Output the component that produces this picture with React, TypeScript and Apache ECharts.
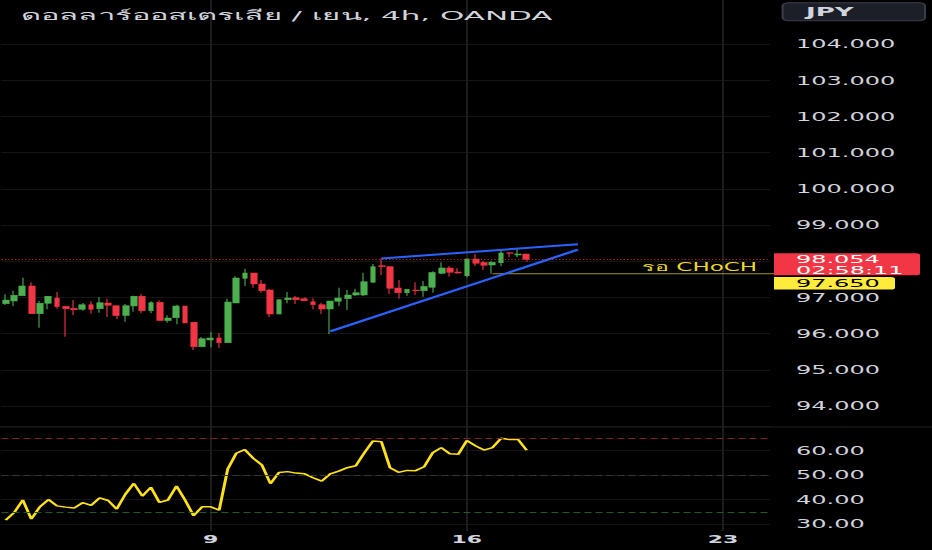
import React, { useEffect, useRef } from "react";
import * as echarts from "echarts";

// horizontal stretch of the whole picture (the reference is drawn wide)
const SX = 2;
const W = 932 / SX;
const H = 550;

const titleText = "ดอลลาร์ออสเตรเลีย / เยน, 4h, OANDA";
const currencyText = "JPY";
const chochText = "รอ CHoCH";
const countdownText = "02:58:11";

const slotCount = 90;
const xTickIndex = [24, 54, 84];
const xTickLabels = ["9", "16", "23"];

const opens = [
  96.827, 96.9, 97.048, 97.315, 96.551, 96.836, 96.983, 96.753, 96.698, 96.67,
  96.799, 96.689, 96.845, 96.772, 96.504, 96.762, 97.029, 96.633, 96.864, 96.366,
  96.44, 96.762, 96.311, 95.639, 95.823, 95.878, 95.749, 96.845, 97.527, 97.674,
  97.37, 97.204, 96.541, 96.937, 96.992, 96.965, 96.882, 96.799, 96.679, 96.891,
  96.965, 97.067, 97.067, 97.417, 97.877, 97.849, 97.26, 97.131, 97.205, 97.186,
  97.279, 97.665, 97.813, 97.702, 97.601, 98.061, 97.96, 97.895, 97.96, 98.236,
  98.172, 98.199,
];
const closes = [
  96.928, 97.057, 97.315, 96.551, 96.836, 97.029, 96.744, 96.689, 96.661, 96.799,
  96.67, 96.854, 96.781, 96.504, 96.772, 97.029, 96.633, 96.854, 96.366, 96.431,
  96.762, 96.293, 95.639, 95.86, 95.878, 95.749, 96.873, 97.536, 97.674, 97.37,
  97.186, 96.541, 96.937, 96.983, 96.937, 96.91, 96.799, 96.679, 96.9, 96.983,
  97.067, 97.131, 97.435, 97.849, 97.849, 97.251, 97.131, 97.223, 97.186, 97.297,
  97.684, 97.813, 97.693, 97.674, 98.061, 97.941, 97.886, 97.969, 98.227, 98.218,
  98.199, 98.054,
];
const lows = [
  96.79, 96.762, 97.039, 96.551, 96.164, 96.67, 96.689, 95.915, 96.514, 96.633,
  96.551, 96.578, 96.458, 96.403, 96.33, 96.606, 96.56, 96.56, 96.366, 96.302,
  96.256, 96.293, 95.547, 95.62, 95.62, 95.602, 95.749, 96.845, 97.315, 97.269,
  97.131, 96.458, 96.541, 96.836, 96.818, 96.891, 96.67, 96.541, 95.989, 96.762,
  96.652, 97.039, 97.039, 97.407, 97.619, 97.094, 96.965, 97.048, 97.067, 97.021,
  97.131, 97.647, 97.573, 97.656, 97.555, 97.868, 97.757, 97.65, 97.868, 98.107,
  98.107, 97.987,
];
const highs = [
  97.085, 97.186, 97.545, 97.416, 96.91, 97.029, 97.149, 96.753, 96.928, 96.845,
  96.891, 97.011, 96.965, 96.772, 96.818, 97.048, 97.094, 96.891, 96.919, 96.504,
  96.799, 96.772, 96.33, 95.906, 96.044, 96.016, 96.965, 97.582, 97.794, 97.674,
  97.481, 97.232, 96.946, 97.149, 97.039, 97.002, 96.974, 96.854, 96.9, 97.269,
  97.204, 97.242, 97.684, 97.923, 98.08, 97.868, 97.481, 97.223, 97.417, 97.453,
  97.721, 97.969, 97.868, 97.813, 98.08, 98.199, 98.015, 98.015, 98.291, 98.236,
  98.346, 98.199,
];
const rsiValues = [
  31.6, 34.7, 39.8, 32.0, 37.0, 40.0, 37.4, 36.9, 36.5, 38.7,
  37.6, 40.7, 39.6, 36.1, 42.1, 46.6, 41.4, 45.0, 38.8, 39.8,
  45.5, 39.8, 33.4, 37.0, 37.0, 35.7, 52.5, 58.9, 60.4, 56.8,
  54.1, 46.5, 51.0, 51.4, 50.8, 50.5, 48.9, 47.5, 50.5, 51.6,
  53.0, 53.8, 59.1, 63.9, 63.6, 53.0, 51.1, 51.9, 51.8, 53.4,
  59.1, 61.2, 58.7, 58.5, 64.1, 62.0, 60.2, 61.2, 65.0, 64.5,
  64.5, 60.1,
];
const rsiBands = [65, 50, 35];

const lastPrice = 98.054;
const chochPrice = 97.65;
const chochStartIndex = 57;
const chochLabelIndex = 88;
const upperTrend = [
  [44, 98.075],
  [67, 98.467],
];
const lowerTrend = [
  [38, 96.06],
  [67, 98.318],
];

const priceMin = 94;
const priceMax = 104;
const rsiMin = 30;
const rsiMax = 70;

const FONT = "'DejaVu Sans', 'Noto Sans', sans-serif";
const TXT = "#d1d4dc";
const GREEN = "#4caf50";
const RED = "#f23645";

export default function App() {
  const ref = useRef<HTMLDivElement>(null);

  useEffect(() => {
    document.body.style.background = "#000";
    const el = ref.current!;
    const chart = echarts.init(el, null, { renderer: "svg" });

    const categories = Array.from({ length: slotCount }, (_, i) => "b" + i);
    const candleData = opens.map((o, i) => [o, closes[i], lows[i], highs[i]]);

    const gl = 0.72;
    const gr = W - 385;
    const band = (W - gl - gr) / slotCount;
    const isTick = (i: number) => xTickIndex.indexOf(i) >= 0;

    const hiddenX = (gridIndex: number) => ({
      type: "category",
      gridIndex,
      data: categories,
      show: false,
      boundaryGap: true,
    });

    const option: any = {
      animation: false,
      backgroundColor: "#000000",
      grid: [
        { left: gl, right: gr, top: 44, height: 362 },
        { left: gl, right: gr, top: 426.1, height: 97.9 },
        { left: gl + band / 2, right: gr + band / 2, top: 0, height: 531 },
      ],
      xAxis: [
        hiddenX(0),
        hiddenX(1),
        {
          type: "category",
          gridIndex: 2,
          data: categories,
          boundaryGap: false,
          axisLine: { show: false },
          axisTick: { show: false },
          splitLine: {
            show: true,
            interval: (i: number) => isTick(i),
            lineStyle: { color: "#1c1c1c", width: 1 },
          },
          axisLabel: {
            interval: (i: number) => isTick(i),
            formatter: (_v: string, i: number) => {
              const k = xTickIndex.indexOf(i);
              return k >= 0 ? xTickLabels[k] : "";
            },
            color: TXT,
            fontSize: 11,
            fontWeight: "bold",
            fontFamily: FONT,
            margin: 3,
          },
        },
      ],
      yAxis: [
        {
          type: "value",
          gridIndex: 0,
          position: "right",
          min: priceMin,
          max: priceMax,
          interval: 1,
          axisLine: { show: false },
          axisTick: { show: false },
          splitLine: { lineStyle: { color: "#141414", width: 1 } },
          axisLabel: {
            // the tick under the live-price tag is covered by it
            formatter: (v: number) => (Math.abs(v - lastPrice) < 0.45 ? "" : v.toFixed(3)),
            color: TXT,
            fontSize: 12,
            fontFamily: FONT,
            margin: 13,
          },
        },
        {
          type: "value",
          gridIndex: 1,
          position: "right",
          min: rsiMin,
          max: rsiMax,
          interval: 10,
          axisLine: { show: false },
          axisTick: { show: false },
          splitLine: { lineStyle: { color: "#131313", width: 1 } },
          axisLabel: {
            formatter: (v: number) => (v >= rsiMax ? "" : v.toFixed(2)),
            color: TXT,
            fontSize: 12,
            fontFamily: FONT,
            margin: 13,
          },
        },
        { type: "value", gridIndex: 2, show: false, min: 0, max: 1 },
      ],
      series: [
        {
          type: "candlestick",
          xAxisIndex: 0,
          yAxisIndex: 0,
          data: candleData,
          barWidth: 3.3,
          itemStyle: {
            color: GREEN,
            color0: RED,
            borderColor: GREEN,
            borderColor0: RED,
            borderWidth: 0.55,
          },
          markLine: {
            silent: true,
            symbol: ["none", "none"],
            label: { show: false },
            lineStyle: { color: RED, width: 1, type: [0.6, 1.1], opacity: 0.75 },
            data: [{ yAxis: lastPrice }],
          },
          z: 3,
        },
        {
          type: "line",
          xAxisIndex: 0,
          yAxisIndex: 0,
          data: upperTrend,
          symbol: "none",
          lineStyle: { color: "#2962ff", width: 2 },
          z: 4,
        },
        {
          type: "line",
          xAxisIndex: 0,
          yAxisIndex: 0,
          data: lowerTrend,
          symbol: "none",
          lineStyle: { color: "#2962ff", width: 2 },
          z: 4,
        },
        {
          type: "line",
          xAxisIndex: 0,
          yAxisIndex: 0,
          data: [
            [chochStartIndex, chochPrice],
            [slotCount, chochPrice],
          ],
          symbol: "none",
          lineStyle: { color: "#a59624", width: 1 },
          markPoint: {
            silent: true,
            symbol: "circle",
            symbolSize: 0.1,
            itemStyle: { color: "transparent" },
            label: {
              show: true,
              formatter: chochText,
              position: [0, -1],
              align: "right",
              verticalAlign: "bottom",
              color: "#eed823",
              fontSize: 11.5,
              fontFamily: FONT,
            },
            data: [{ coord: [chochLabelIndex, chochPrice] }],
          },
          z: 2,
        },
        {
          type: "line",
          xAxisIndex: 1,
          yAxisIndex: 1,
          data: rsiValues,
          symbol: "none",
          clip: false,
          lineStyle: { color: "#ffe11a", width: 1.5 },
          markLine: {
            silent: true,
            symbol: ["none", "none"],
            label: { show: false },
            data: [
              { yAxis: rsiBands[0], lineStyle: { color: "#7d2626", width: 1, type: [3.5, 2] } },
              { yAxis: rsiBands[1], lineStyle: { color: "#363636", width: 1, type: [3.5, 2] } },
              { yAxis: rsiBands[2], lineStyle: { color: "#1d5a2a", width: 1, type: [3.5, 2] } },
            ],
          },
          z: 3,
        },
      ],
    };

    chart.setOption(option);

    const pyLast = chart.convertToPixel({ yAxisIndex: 0 }, lastPrice) as number;
    const pyChoch = chart.convertToPixel({ yAxisIndex: 0 }, chochPrice) as number;
    const redTop = pyLast - 6;
    const redH = 22;
    const yc = Math.max(pyChoch, redTop + redH + 1.7 + 6.3);
    const labelX = 398;

    const tagText = (text: string, y: number, fill: string) => ({
      type: "text",
      z: 101,
      x: labelX,
      y,
      scaleX: 1.09,
      style: {
        text,
        fill,
        fontSize: 11,
        fontFamily: FONT,
        verticalAlign: "middle",
      },
    });

    chart.setOption({
      graphic: [
        {
          type: "rect",
          z: 100,
          shape: { x: 0, y: 426.5, width: W, height: 1 },
          style: { fill: "#1f1f1f" },
        },
        {
          type: "text",
          z: 100,
          x: 10.5,
          y: 15.5,
          scaleX: 1.19,
          style: {
            text: titleText,
            fill: TXT,
            fontSize: 13,
            fontFamily: FONT,
            verticalAlign: "middle",
          },
        },
        {
          type: "rect",
          z: 100,
          shape: { x: 391.3, y: 2.7, width: 71.2, height: 18, r: 3 },
          style: { fill: "#1c1f28", stroke: "#3a3e48", lineWidth: 1 },
        },
        {
          type: "text",
          z: 101,
          x: 403,
          y: 12,
          style: {
            text: currencyText,
            fill: TXT,
            fontSize: 13,
            fontWeight: "bold",
            fontFamily: FONT,
            verticalAlign: "middle",
          },
        },
        {
          type: "rect",
          z: 100,
          shape: { x: 387, y: redTop, width: 73, height: redH, r: [0, 2, 2, 0] },
          style: { fill: RED },
        },
        tagText(lastPrice.toFixed(3), pyLast + 0.3, "#ffffff"),
        tagText(countdownText, pyLast + 10.8, "#ffffff"),
        {
          type: "rect",
          z: 100,
          shape: { x: 387, y: yc - 6.3, width: 60.5, height: 12.6, r: [0, 2, 2, 0] },
          style: { fill: "#ffeb3b" },
        },
        tagText(chochPrice.toFixed(3), yc + 0.3, "#000000"),
      ],
    });

    return () => {
      chart.dispose();
    };
  }, []);

  return (
    <div
      ref={ref}
      style={{
        position: "fixed",
        left: 0,
        top: 0,
        width: W,
        height: H,
        transform: `scaleX(${SX})`,
        transformOrigin: "0 0",
        background: "#000",
      }}
    />
  );
}
